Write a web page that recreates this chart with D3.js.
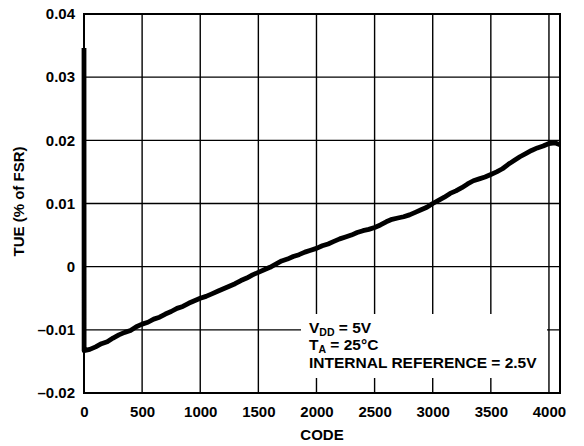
<!DOCTYPE html>
<html><head><meta charset="utf-8">
<script src="https://cdn.jsdelivr.net/npm/d3@7/dist/d3.min.js"></script>
<style>
html,body{margin:0;padding:0;background:#fff;}
svg{display:block;font-family:"Liberation Sans",Arial,Helvetica,sans-serif;font-weight:bold;}
</style></head>
<body>
<svg id="chart" width="584" height="446"></svg>
<script>
const codes = [0,1,50,100,150,200,250,300,350,400,450,500,550,600,650,700,750,800,850,900,950,
  1000,1050,1100,1150,1200,1250,1300,1350,1400,1450,1500,1550,1600,1650,1700,1750,1800,1850,1900,1950,
  2000,2050,2100,2150,2200,2250,2300,2350,2400,2450,2500,2550,2600,2650,2700,2750,2800,2850,2900,2950,
  3000,3050,3100,3150,3200,3250,3300,3350,3400,3450,3500,3550,3600,3650,3700,3750,3800,3850,3900,3950,
  4000,4050,4095];
const tue = [0.0346,-0.0133,-0.0131,-0.0127,-0.0122,-0.0119,-0.0113,-0.0108,-0.0104,-0.0101,-0.0095,
  -0.0091,-0.0088,-0.0083,-0.0080,-0.0075,-0.0071,-0.0066,-0.0063,-0.0058,-0.0054,
  -0.0050,-0.0047,-0.0043,-0.0039,-0.0035,-0.0031,-0.0027,-0.0022,-0.0018,-0.0013,
  -0.0009,-0.0005,-0.0001,0.0004,0.0009,0.0012,0.0016,0.0019,0.0023,0.0026,
  0.0029,0.0033,0.0036,0.0040,0.0044,0.0047,0.0050,0.0054,0.0057,0.0059,
  0.0062,0.0066,0.0071,0.0075,0.0077,0.0079,0.0082,0.0086,0.0090,0.0094,
  0.0100,0.0105,0.0110,0.0116,0.0120,0.0125,0.0131,0.0136,0.0139,0.0142,
  0.0146,0.0150,0.0155,0.0162,0.0168,0.0174,0.0179,0.0184,0.0188,0.0191,
  0.0195,0.0196,0.0193];
const xTicks = [0,500,1000,1500,2000,2500,3000,3500,4000];
const yTicks = [-0.02,-0.01,0,0.01,0.02,0.03,0.04];
const yTickLabels = ["\u20130.02","\u20130.01","0","0.01","0.02","0.03","0.04"];
const xTitle = "CODE";
const yTitle = "TUE (% of FSR)";
const legendLines = [["V","DD"," = 5V"],["T","A"," = 25\u00B0C"],["INTERNAL REFERENCE = 2.5V","",""]];

const svg = d3.select("#chart");
const L = 84, R = 560, T = 14, B = 393;
const x = d3.scaleLinear().domain([0,4095]).range([L,R]);
const y = d3.scaleLinear().domain([-0.02,0.04]).range([B,T]);

// grid
const g = svg.append("g");
g.selectAll(".vg").data(xTicks.filter(d=>d>0)).enter().append("line")
  .attr("x1",d=>x(d)).attr("x2",d=>x(d)).attr("y1",T).attr("y2",B)
  .attr("stroke","#000").attr("stroke-width",1.4);
g.selectAll(".hg").data(yTicks.filter(d=>d>-0.02&&d<0.04)).enter().append("line")
  .attr("x1",L).attr("x2",R).attr("y1",d=>y(d)).attr("y2",d=>y(d))
  .attr("stroke","#000").attr("stroke-width",1.4);

// data line
const line = d3.line().x((d,i)=>x(codes[i])).y(d=>y(d));
svg.append("path").datum(tue).attr("d",line)
  .attr("fill","none").attr("stroke","#000").attr("stroke-width",4.8)
  .attr("stroke-linejoin","round").attr("stroke-linecap","butt");

// legend box (white background)
svg.append("rect").attr("x",301).attr("y",314).attr("width",246).attr("height",64).attr("fill","#fff");
const lt = svg.append("g").attr("font-size",15.5);
const legendY = [333, 350, 368];
legendLines.forEach((parts,i)=>{
  const t = lt.append("text").attr("x",309).attr("y",legendY[i]);
  t.append("tspan").text(parts[0]);
  if(parts[1]) t.append("tspan").attr("font-size",10.5).attr("dy",2.5).text(parts[1]);
  if(parts[2]) t.append("tspan").attr("dy",parts[1]?-2.5:0).text(parts[2]);
});

// frame
svg.append("rect").attr("x",L).attr("y",T).attr("width",R-L).attr("height",B-T)
  .attr("fill","none").attr("stroke","#000").attr("stroke-width",2);

// axes with d3 (no tick lines)
const xAxis = d3.axisBottom(x).tickValues(xTicks).tickSize(0).tickPadding(13).tickFormat(d3.format("d"));
const xa = svg.append("g").attr("transform",`translate(0,${B})`).call(xAxis);
xa.select(".domain").remove();
xa.selectAll("text").attr("font-size",15).attr("font-family","Liberation Sans, Arial, sans-serif").attr("font-weight","bold").attr("fill","#000");

const yAxis = d3.axisLeft(y).tickValues(yTicks).tickSize(0).tickPadding(9).tickFormat((d,i)=>yTickLabels[i]);
const ya = svg.append("g").attr("transform",`translate(${L},0)`).call(yAxis);
ya.select(".domain").remove();
ya.selectAll("text").attr("font-size",15).attr("font-family","Liberation Sans, Arial, sans-serif").attr("font-weight","bold").attr("fill","#000");

svg.append("text").attr("x",(L+R)/2).attr("y",440).attr("text-anchor","middle").attr("font-size",15).text(xTitle);
svg.append("text").attr("transform",`translate(24,${(T+B)/2-2}) rotate(-90)`).attr("text-anchor","middle").attr("font-size",15).text(yTitle);
</script>
</body></html>
